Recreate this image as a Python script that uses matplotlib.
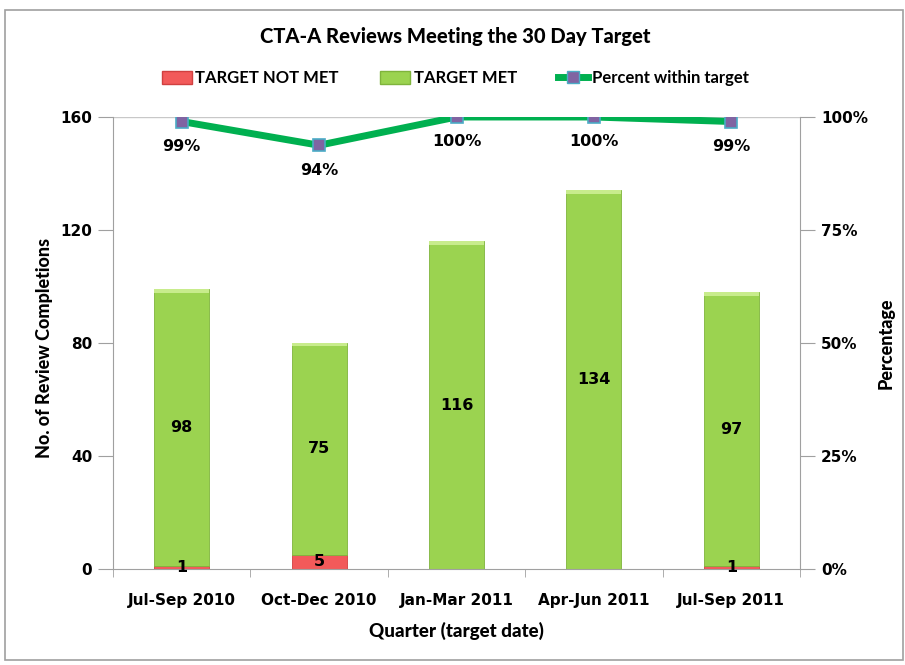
import matplotlib
matplotlib.use("Agg")
import matplotlib.pyplot as plt
import numpy as np
from matplotlib.patches import Rectangle
from matplotlib.lines import Line2D

categories = ["Jul-Sep 2010", "Oct-Dec 2010", "Jan-Mar 2011", "Apr-Jun 2011", "Jul-Sep 2011"]
not_met = [1, 5, 0, 0, 1]
met = [98, 75, 116, 134, 97]
percent = [0.99, 0.9375, 1.0, 1.0, 0.99]
percent_labels = ["99%", "94%", "100%", "100%", "99%"]

fig = plt.figure(figsize=(9.05, 6.65), dpi=100)
fig.patch.set_facecolor("white")
fig.patches.append(Rectangle((5/905, 5/665), 1 - 7/905, 1 - 15/665, transform=fig.transFigure,
                             fill=False, edgecolor="#a0a0a0", linewidth=1.2))

ax = fig.add_axes([113/905, 1 - 569/665, (800 - 113)/905, (569 - 117)/665])
x = np.arange(len(categories))
w = 0.4
red = "#f25a5a"
green = "#9bd350"
ax.bar(x, not_met, w, color=red, edgecolor="#d04040", linewidth=0.6, zorder=2)
ax.bar(x, met, w, bottom=not_met, color=green, edgecolor="#7fb43c", linewidth=0.6, zorder=2)
for xi, nm, m in zip(x, not_met, met):
    ax.bar(xi, 1.2, w, bottom=nm + m - 1.2, color="#c8ec8c", linewidth=0, zorder=3)

lblfont = dict(fontfamily="DejaVu Sans", fontweight="bold", fontsize=11.5, color="black")
for xi, nm, m in zip(x, not_met, met):
    ax.text(xi, nm + m / 2, str(m), ha="center", va="center", zorder=5, **lblfont)
    if nm > 0:
        ax.text(xi, nm / 2, str(nm), ha="center", va="center", zorder=5, **lblfont)

ax.set_xlim(-0.5, len(categories) - 0.5)
ax.set_ylim(0, 160)
ax.set_yticks([0, 40, 80, 120, 160])
ax.set_xticks(x)
ax.set_xticklabels(categories)
ax.set_xticks(np.arange(-0.5, len(categories)), minor=True)
ax.tick_params(axis="x", which="major", length=0, pad=17)
ax.tick_params(axis="x", which="minor", length=6, color="#a0a0a0", direction="out")
ax.tick_params(axis="y", length=11, color="#a0a0a0", direction="out", pad=4)
for lab in ax.get_xticklabels() + ax.get_yticklabels():
    lab.set_fontfamily("DejaVu Sans")
    lab.set_fontweight("bold")
    lab.set_fontsize(11)
ax.axhline(160, color="#c8c8c8", linewidth=1, zorder=1)
for s in ["top", "right"]:
    ax.spines[s].set_visible(False)
for s in ["left", "bottom"]:
    ax.spines[s].set_color("#a0a0a0")
hfont = dict(fontfamily="Lato", fontweight="black")
ax.set_xlabel("Quarter (target date)", fontsize=13.5, labelpad=10, **hfont)
ax.set_ylabel("No. of Review Completions", fontsize=13, **hfont)
ax.yaxis.set_label_coords(-60/687, 0.49)

ax2 = ax.twinx()
ax2.set_ylim(0, 1.0)
ax2.set_yticks([0, 0.25, 0.5, 0.75, 1.0])
ax2.set_yticklabels(["0%", "25%", "50%", "75%", "100%"])
ax2.tick_params(axis="y", length=11, color="#a0a0a0", direction="out", pad=4)
for lab in ax2.get_yticklabels():
    lab.set_fontfamily("DejaVu Sans")
    lab.set_fontweight("bold")
    lab.set_fontsize(11)
for s in ["top", "left", "bottom"]:
    ax2.spines[s].set_visible(False)
ax2.spines["right"].set_color("#a0a0a0")
ax2.set_ylabel("Percentage", fontsize=13, **hfont)
ax2.yaxis.set_label_coords(1 + 78/687, 0.5)
ax2.plot(x, percent, color="#00b050", linewidth=5, marker="s", markersize=9,
         markerfacecolor="#8064a2", markeredgecolor="#4bacc6", markeredgewidth=1.2, zorder=6,
         solid_joinstyle="round")
for xi, p, pl in zip(x, percent, percent_labels):
    ax2.annotate(pl, (xi, p), xytext=(0, -25), textcoords="offset pixels",
                 ha="center", va="center", **lblfont)

fig.text(0.503, 1 - 37/665, "CTA-A Reviews Meeting the 30 Day Target", ha="center", va="center",
         fontsize=14.5, **hfont)

handles = [Rectangle((0, 0), 1, 1, facecolor=red, edgecolor="#d04040"),
           Rectangle((0, 0), 1, 1, facecolor=green, edgecolor="#7fb43c"),
           Line2D([0], [0], color="#00b050", linewidth=5, marker="s", markersize=9,
                  markerfacecolor="#8064a2", markeredgecolor="#4bacc6")]
fig.legend(handles, ["TARGET NOT MET", "TARGET MET", "Percent within target"],
           loc="center", bbox_to_anchor=(0.503, 1 - 78/665), ncol=3, frameon=False,
           prop=dict(family="Lato", size=12, weight="bold"), handlelength=1.8, handletextpad=0.2,
           columnspacing=2.5, handleheight=0.8)

fig.savefig("out.png", dpi=100)
